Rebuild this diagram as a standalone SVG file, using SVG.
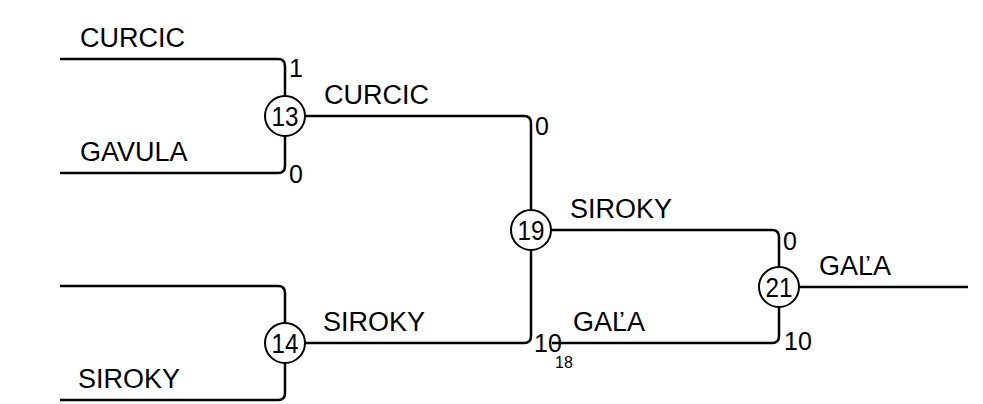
<svg xmlns="http://www.w3.org/2000/svg" width="983" height="404" viewBox="0 0 983 404">
<style>
.ln{fill:none;stroke:#000;stroke-width:2.5}
.nd circle{fill:#fff;stroke:#000;stroke-width:2}
.nm{font-family:"Liberation Sans",Arial,sans-serif;font-size:27px;fill:#000}
.sc{font-family:"Liberation Sans",Arial,sans-serif;font-size:25px;fill:#000}
.cn{font-family:"Liberation Sans",Arial,sans-serif;font-size:27px;fill:#000;text-anchor:middle}
.sm{font-family:"Liberation Sans",Arial,sans-serif;font-size:16px;fill:#000}
</style>
<rect width="983" height="404" fill="#fff"/>
<g id="connectors">
<path class="ln" d="M60,59 H278 Q285,59 285,66 V96"/>
<path class="ln" d="M60,173 H278 Q285,173 285,166 V136"/>
<path class="ln" d="M60,286 H278 Q285,286 285,293 V323"/>
<path class="ln" d="M60,400 H278 Q285,400 285,393 V363"/>
<path class="ln" d="M305,116 H524 Q531,116 531,123 V210"/>
<path class="ln" d="M305,343 H524 Q531,343 531,336 V250"/>
<path class="ln" d="M551,230 H772 Q779,230 779,237 V267"/>
<path class="ln" d="M552,343 H772 Q779,343 779,336 V307"/>
<path class="ln" d="M799,287 H968"/>
</g>
<g id="labels">
<text class="nm" x="80" y="47">CURCIC</text>
<text class="nm" x="80" y="161">GAVULA</text>
<text class="nm" x="78" y="388">SIROKY</text>
<text class="nm" x="324" y="104">CURCIC</text>
<text class="nm" x="323" y="331">SIROKY</text>
<text class="nm" x="570" y="218">SIROKY</text>
<text class="nm" x="573" y="331">GAĽA</text>
<text class="nm" x="819" y="275">GAĽA</text>
<text class="sc" x="289" y="77">1</text>
<text class="sc" x="289" y="183">0</text>
<text class="sc" x="535" y="135">0</text>
<text class="sc" x="534" y="352">10</text>
<text class="sm" x="555" y="368">18</text>
<text class="sc" x="783" y="250">0</text>
<text class="sc" x="784" y="350">10</text>
</g>
<g id="node13" class="nd"><circle cx="285" cy="116" r="20"/><text class="cn" x="285" y="126" textLength="27" lengthAdjust="spacingAndGlyphs">13</text></g>
<g id="node14" class="nd"><circle cx="285" cy="343" r="20"/><text class="cn" x="285" y="353" textLength="27" lengthAdjust="spacingAndGlyphs">14</text></g>
<g id="node19" class="nd"><circle cx="531" cy="230" r="20"/><text class="cn" x="531" y="240" textLength="27" lengthAdjust="spacingAndGlyphs">19</text></g>
<g id="node21" class="nd"><circle cx="779" cy="287" r="20"/><text class="cn" x="779" y="297" textLength="27" lengthAdjust="spacingAndGlyphs">21</text></g>
</svg>
